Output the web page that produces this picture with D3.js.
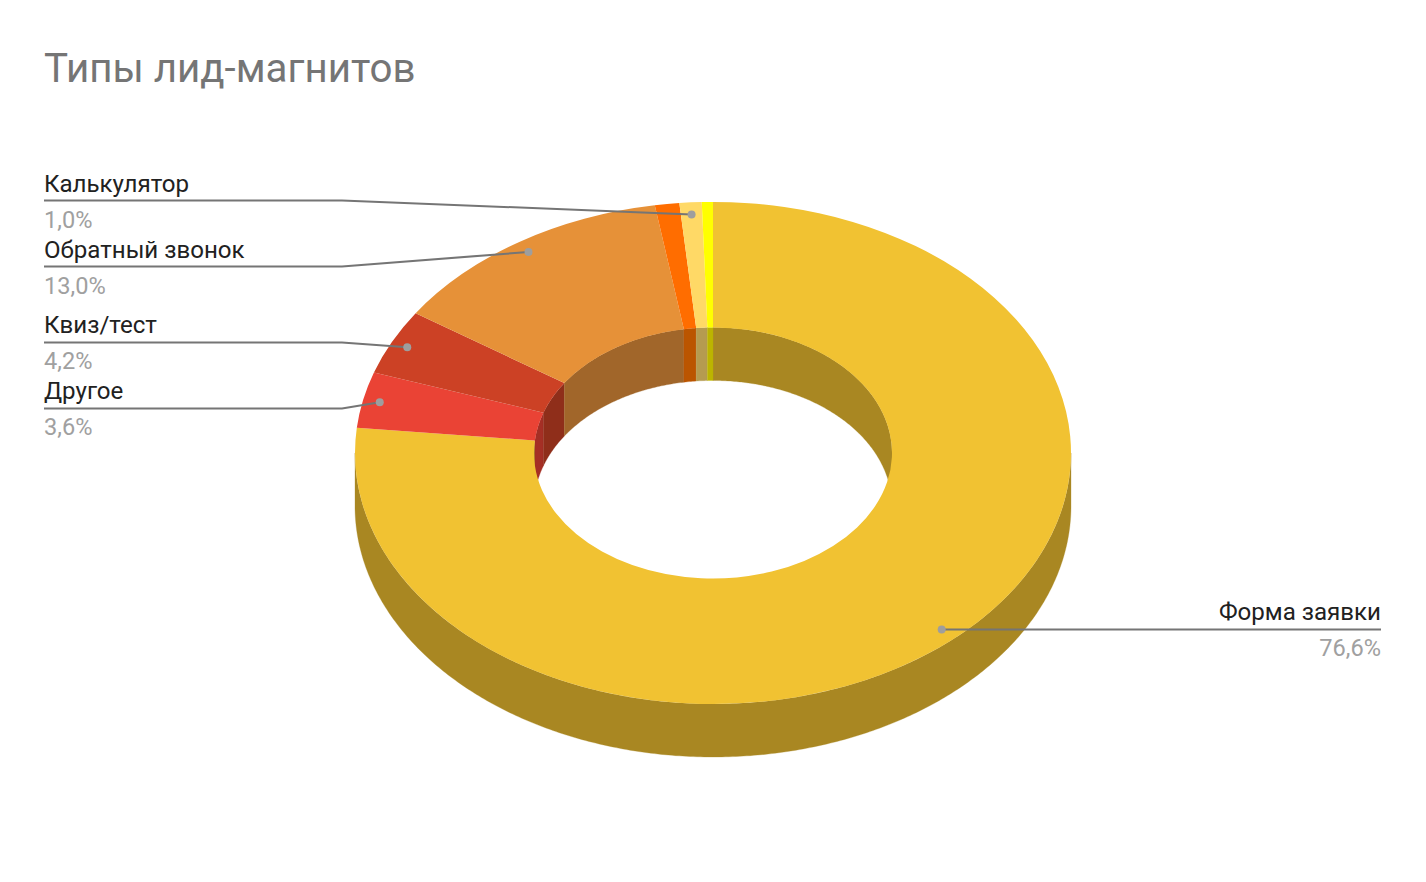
<!DOCTYPE html>
<html><head><meta charset="utf-8">
<script src="https://cdn.jsdelivr.net/npm/d3@7"></script>
<style>html,body{margin:0;padding:0;background:#fff}svg{display:block}text{font-family:Roboto,sans-serif}</style>
</head><body><svg id="c" width="1426" height="882"></svg>
<script>
const title = "Типы лид-магнитов";
const categories = ["Форма заявки","Другое","Квиз/тест","Обратный звонок","Без подписи 1","Калькулятор","Без подписи 2"];
const values = [76.6,3.6,4.2,13.0,1.1,1.0,0.5];
const valueLabels = ["76,6%","3,6%","4,2%","13,0%",null,"1,0%",null];
const colors = ["#f1c232","#ea4335","#cc4125","#e69138","#ff6d00","#ffd966","#ffff00"];
const sideColors = ["#a98722","#a52f25","#8f2e1a","#a1662a","#bb5500","#b59b50","#bcb400"];

const cx=713, cy=453, rx=358, inner=179, squash=251/358, depth=53, dotR=341;
// leader-line y and text baseline offset for each labelled slice (layout only)
const lineY = {"Форма заявки":629.5,"Другое":408.5,"Квиз/тест":342.5,"Обратный звонок":266.5,"Калькулятор":200.5};
const textShift = {"Форма заявки":-2,"Другое":-2,"Квиз/тест":-2,"Обратный звонок":-1,"Калькулятор":-1};

const svg=d3.select("#c");
svg.append("text").attr("x",44).attr("y",82).attr("font-size",40.3).attr("fill","#757575").text(title);

const rows=categories.map((name,i)=>({name,value:values[i],label:valueLabels[i],color:colors[i],side:sideColors[i]}));
const arcs=d3.pie().sort(null).value(d=>d.value).startAngle(0).endAngle(2*Math.PI)(rows);
const px=(a,r)=>cx+r*Math.sin(a), py=(a,r)=>cy-r*Math.cos(a)*squash;
const line=d3.line();
function wall(a0,a1,r){
  if(a1<=a0) return null;
  const n=Math.max(2,Math.ceil((a1-a0)/0.01));
  const as=d3.range(n+1).map(i=>a0+(a1-a0)*i/n);
  return line(as.map(a=>[px(a,r),py(a,r)]).concat(as.slice().reverse().map(a=>[px(a,r),py(a,r)+depth])))+"Z";
}
const P=Math.PI;
const g=svg.append("g");
arcs.forEach(d=>{
  const pieces=[
    [Math.max(d.startAngle,P/2),Math.min(d.endAngle,1.5*P),rx],
    [d.startAngle,Math.min(d.endAngle,P/2),inner],
    [Math.max(d.startAngle,1.5*P),d.endAngle,inner]
  ];
  pieces.forEach(p=>{const s=wall(p[0],p[1],p[2]); if(s) g.append("path").attr("d",s).attr("fill",d.data.side).attr("stroke",d.data.side).attr("stroke-width",0.3);});
});
const arc=d3.arc().innerRadius(inner).outerRadius(rx);
svg.append("g").attr("transform",`translate(${cx},${cy}) scale(1,${squash})`)
  .selectAll("path").data(arcs).join("path").attr("d",arc).attr("fill",d=>d.data.color);

const lab=arcs.filter(d=>d.data.label);
lab.forEach(d=>{
  const a=(d.startAngle+d.endAngle)/2, x=px(a,dotR), y=py(a,dotR), ly=lineY[d.data.name], sh=textShift[d.data.name];
  const right=x>cx;
  const pts=right?[[x,ly],[1381,ly]]:[[x,y],[342,ly],[44,ly]];
  svg.append("path").attr("d",line(pts)).attr("fill","none").attr("stroke","#757575").attr("stroke-width",2);
  svg.append("circle").attr("cx",x).attr("cy",right?ly:y).attr("r",4).attr("fill","#9e9e9e");
  const tx=right?1381:44, anchor=right?"end":"start";
  svg.append("text").attr("x",tx).attr("y",ly-8+sh).attr("text-anchor",anchor).attr("font-size",24.1).attr("fill","#212121").text(d.data.name);
  svg.append("text").attr("x",tx).attr("y",ly+28+sh).attr("text-anchor",anchor).attr("font-size",23.6).attr("fill","#a0a0a0").text(d.data.label);
});
</script></body></html>
